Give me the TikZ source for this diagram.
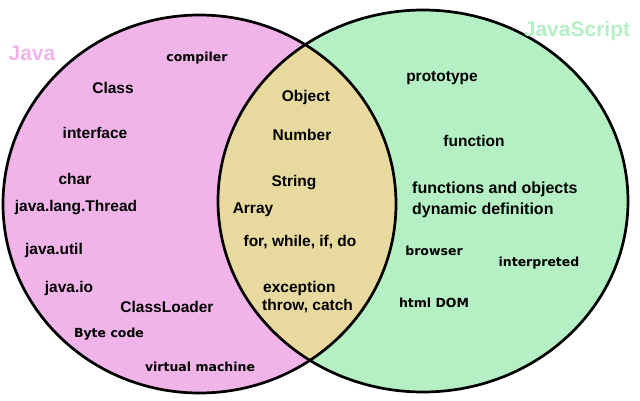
\documentclass[tikz,border=0pt]{standalone}
\usepackage{fontspec}
\setmainfont{Liberation Sans}
\newfontfamily\vfont{DejaVu Sans}
\definecolor{javapink}{RGB}{240,180,232}
\definecolor{jsgreen}{RGB}{180,240,196}
\definecolor{bothtan}{RGB}{232,218,158}
\tikzset{
  bigword/.style={font=\fontsize{15.5}{18}\selectfont\bfseries, inner sep=0pt},
  smallword/.style={font=\vfont\fontsize{12.5}{15}\selectfont\bfseries, inner sep=0pt},
  langname/.style={font=\fontsize{21}{24}\selectfont\bfseries, inner sep=0pt}
}
\begin{document}
\begin{tikzpicture}[x=1pt,y=-1pt]
			\useasboundingbox (0,0) rectangle (640,400);
			\fill[javapink] (199.5,204) ellipse [x radius=196.5pt, y radius=189pt];
			\fill[jsgreen] (423,201) ellipse [x radius=205pt, y radius=191pt];
			\begin{scope}
				\clip (199.5,204) ellipse [x radius=196.5pt, y radius=189pt];
				\fill[bothtan] (423,201) ellipse [x radius=205pt, y radius=191pt];
			\end{scope}
			\draw[line width=2.7pt] (199.5,204) ellipse [x radius=196.5pt, y radius=189pt];
			\draw[line width=2.7pt] (423,201) ellipse [x radius=205pt, y radius=191pt];
			\node[langname, text=javapink] (java) at (32,53) {Java};
			\node[langname, text=jsgreen] (js) at (577,31) {JavaScript};
			\node[smallword] (compiler) at (197,58) {compiler};
			\node[bigword] (class) at (113,88) {Class};
			\node[bigword] (interface) at (95,133) {interface};
			\node[bigword] (char) at (75,179) {char};
			\node[bigword] (thread) at (76,208) {java.lang.Thread};
			\node[bigword] (util) at (54,250) {java.util};
			\node[bigword] (io) at (69,288) {java.io};
			\node[bigword] (loader) at (167,307) {ClassLoader};
			\node[smallword] (bytecode) at (109,334) {Byte code};
			\node[smallword] (vm) at (200,367) {virtual machine};
			\node[bigword] (object) at (306,97) {Object};
			\node[bigword] (number) at (302,135) {Number};
			\node[bigword] (string) at (294,183) {String};
			\node[bigword] (array) at (253,210) {Array};
			\node[bigword] (loops) at (300,242) {for, while, if, do};
			\node[bigword, anchor=west] (exception) at (263,288) {exception};
			\node[bigword, anchor=west] (throw) at (262,306) {throw, catch};
			\node[bigword] (prototype) at (442,78) {prototype};
			\node[bigword] (function) at (474,141) {function};
			\node[bigword, font=\fontsize{16}{19}\selectfont\bfseries, anchor=west] (funobj) at (412,189) {functions and objects};
			\node[bigword, font=\fontsize{16}{19}\selectfont\bfseries, anchor=west] (dyndef) at (412,210) {dynamic definition};
			\node[smallword] (browser) at (434,251) {browser};
			\node[smallword] (interpreted) at (539,263) {interpreted};
			\node[smallword] (dom) at (434,303) {html DOM};
\end{tikzpicture}
\end{document}
